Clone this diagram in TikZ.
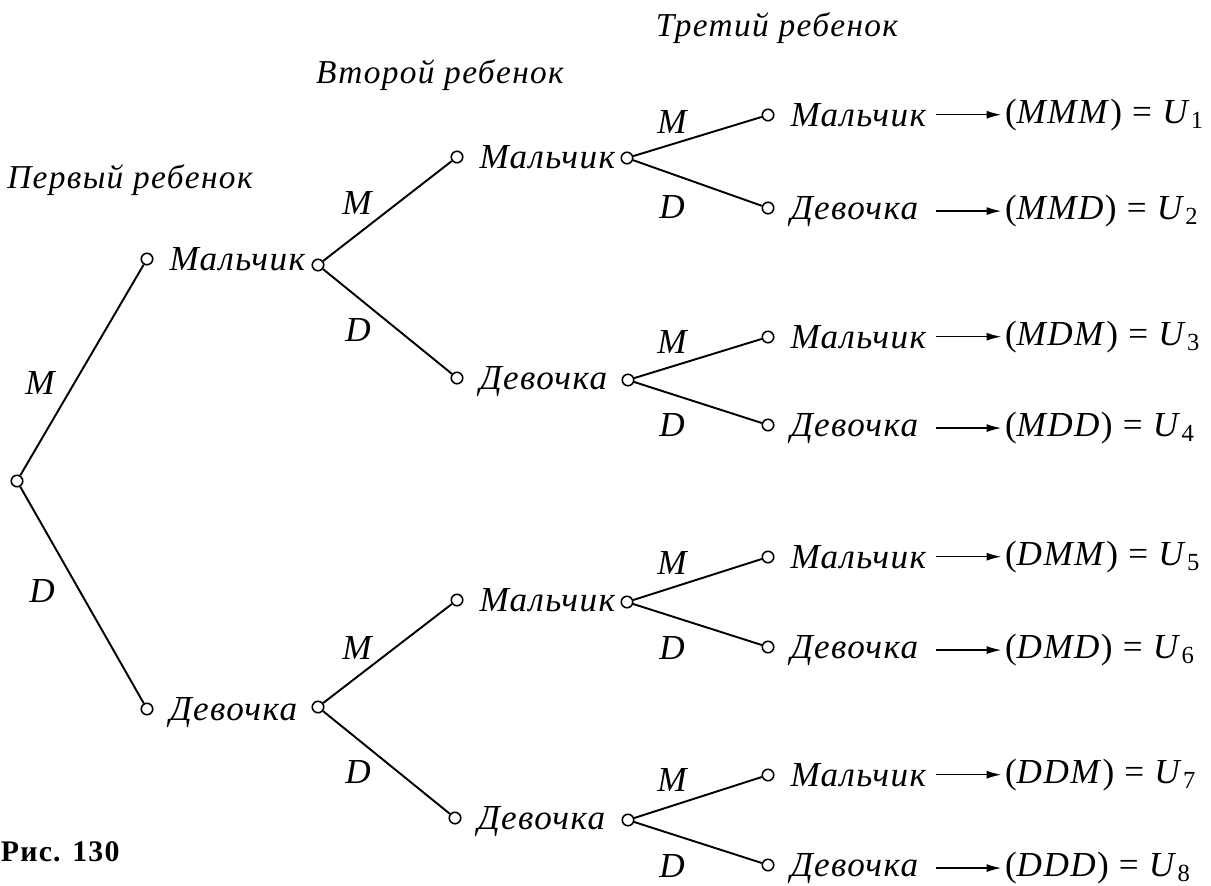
\documentclass[tikz,border=0pt]{standalone}
\usepackage{fontspec}
\setmainfont[LetterSpace=4]{Liberation Serif}
\usetikzlibrary{arrows.meta,positioning}

\begin{document}
\begin{tikzpicture}[x=0.02cm,y=-0.02cm,line width=1.1pt,
  >={Latex[length=8.5pt,width=4.6pt]},
  every node/.style={font=\fontsize{20}{22}\selectfont\itshape},
  head/.style={font=\fontsize{19}{21}\selectfont\itshape},
  dot/.style={circle,draw,fill=white,inner sep=0pt,minimum size=0.23cm,line width=0.9pt},
  word/.style={inner sep=0pt,anchor=base west,yshift=-0.22cm},
  leaf/.style={word,text width=2.9cm,align=left},
  res/.style={inner sep=1.5pt,font=\fontsize{20}{22}\selectfont},
  letter/.style={inner sep=0pt}]

  \useasboundingbox (0,0) rectangle (1211,886);

  % headings
  \node[head] (h1) at (130,180) {Первый ребенок};
  \node[head] (h2) at (440,75) {Второй ребенок};
  \node[head] (h3) at (777,28) {Третий ребенок};
  \node[anchor=west,inner sep=0pt,font=\fontsize{17}{19}\selectfont\bfseries] (fig) at (0,852) {Рис. 130};

  % first child
  \node[dot] (0) at (17,481) {};
  \node[dot] (M) at (147,259) {};
  \node[right=0.3cm of M,word] (Mt) {Мальчик};
  \node[dot] (Mo) at (318,265) {};
  \node[dot] (D) at (147,709) {};
  \node[right=0.3cm of D,word] (Dt) {Девочка};
  \node[dot] (Do) at (318,707) {};

  % second child
  \node[dot] (MM) at (457,157) {};
  \node[right=0.3cm of MM,word] (MMt) {Мальчик};
  \node[dot] (MMo) at (627,158) {};
  \node[dot] (MD) at (457,378) {};
  \node[right=0.3cm of MD,word] (MDt) {Девочка};
  \node[dot] (MDo) at (628,380) {};
  \node[dot] (DM) at (457,600) {};
  \node[right=0.3cm of DM,word] (DMt) {Мальчик};
  \node[dot] (DMo) at (627,602) {};
  \node[dot] (DD) at (455,818) {};
  \node[right=0.3cm of DD,word] (DDt) {Девочка};
  \node[dot] (DDo) at (628,820) {};

  % third child
  \node[dot] (MMM) at (768,115) {};
  \node[right=0.3cm of MMM,leaf] (MMMt) {Мальчик};
  \node[dot] (MMD) at (768,208) {};
  \node[right=0.3cm of MMD,leaf] (MMDt) {Девочка};
  \node[dot] (MDM) at (768,337) {};
  \node[right=0.3cm of MDM,leaf] (MDMt) {Мальчик};
  \node[dot] (MDD) at (768,425) {};
  \node[right=0.3cm of MDD,leaf] (MDDt) {Девочка};
  \node[dot] (DMM) at (768,557) {};
  \node[right=0.3cm of DMM,leaf] (DMMt) {Мальчик};
  \node[dot] (DMD) at (768,647) {};
  \node[right=0.3cm of DMD,leaf] (DMDt) {Девочка};
  \node[dot] (DDM) at (768,775) {};
  \node[right=0.3cm of DDM,leaf] (DDMt) {Мальчик};
  \node[dot] (DDD) at (768,865) {};
  \node[right=0.3cm of DDD,leaf] (DDDt) {Девочка};

  % outcomes
  \node[right=1.3cm of MMMt,res] (U1) {(\textit{MMM}) = \textit{U}\textsubscript{1}};
  \node[right=1.3cm of MMDt,res] (U2) {(\textit{MMD}) = \textit{U}\textsubscript{2}};
  \node[right=1.3cm of MDMt,res] (U3) {(\textit{MDM}) = \textit{U}\textsubscript{3}};
  \node[right=1.3cm of MDDt,res] (U4) {(\textit{MDD}) = \textit{U}\textsubscript{4}};
  \node[right=1.3cm of DMMt,res] (U5) {(\textit{DMM}) = \textit{U}\textsubscript{5}};
  \node[right=1.3cm of DMDt,res] (U6) {(\textit{DMD}) = \textit{U}\textsubscript{6}};
  \node[right=1.3cm of DDMt,res] (U7) {(\textit{DDM}) = \textit{U}\textsubscript{7}};
  \node[right=1.3cm of DDDt,res] (U8) {(\textit{DDD}) = \textit{U}\textsubscript{8}};

  % branch letters
  \node[letter] at (40,383) {M};
  \node[letter] at (42,591) {D};
  \node[letter] at (357,203) {M};
  \node[letter] at (358,330) {D};
  \node[letter] at (357,648) {M};
  \node[letter] at (358,772) {D};
  \node[letter] at (672,122) {M};
  \node[letter] at (672,207) {D};
  \node[letter] at (672,342) {M};
  \node[letter] at (672,425) {D};
  \node[letter] at (672,563) {M};
  \node[letter] at (672,648) {D};
  \node[letter] at (672,780) {M};
  \node[letter] at (672,866) {D};

  \path
    (0) edge (M)
        edge (D)
    (Mo) edge (MM)
         edge (MD)
    (Do) edge (DM)
         edge (DD)
    (MMo) edge (MMM)
          edge (MMD)
    (MDo) edge (MDM)
          edge (MDD)
    (DMo) edge (DMM)
          edge (DMD)
    (DDo) edge (DDM)
          edge (DDD);

  \path[->,line width=0.9pt]
    (MMMt) edge (U1)
    (MMDt) edge (U2)
    (MDMt) edge (U3)
    (MDDt) edge (U4)
    (DMMt) edge (U5)
    (DMDt) edge (U6)
    (DDMt) edge (U7)
    (DDDt) edge (U8);

\end{tikzpicture}
\end{document}
